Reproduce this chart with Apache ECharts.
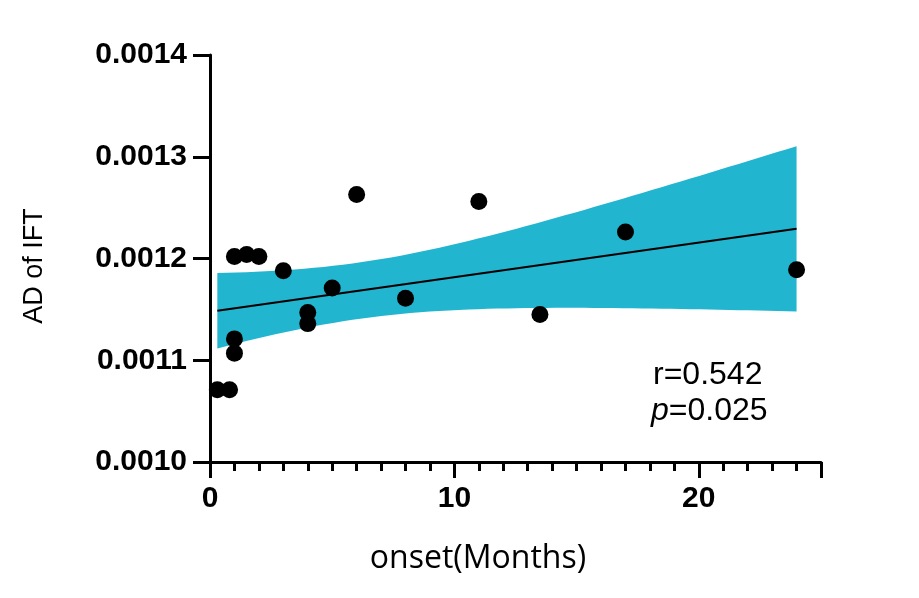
<!DOCTYPE html>
<html>
<head>
<meta charset="utf-8">
<script src="https://cdn.jsdelivr.net/npm/echarts@6/dist/echarts.min.js"></script>
<style>html,body{margin:0;padding:0;background:#fff}#c{width:919px;height:598px}</style>
</head>
<body>
<div id="c"></div>
<script>
// Data
const onsetMonths = [0.3, 0.8, 1, 1.5, 2, 3, 1, 1, 4, 4, 5, 6, 8, 11, 13.5, 17, 24];
const adIFT = [0.001071, 0.001071, 0.001202, 0.001204, 0.001202, 0.001188, 0.001121, 0.001107,
               0.001147, 0.001136, 0.001171, 0.001263, 0.001161, 0.001256, 0.001145, 0.001226, 0.001189];
const yTickValues = [0.0010, 0.0011, 0.0012, 0.0013, 0.0014];
const xTickValues = [0, 10, 20];
const statLines = ['r=0.542', 'p=0.025'];

// Linear regression with 95% confidence band, derived from the data
const n = onsetMonths.length;
const mx = onsetMonths.reduce((a, b) => a + b, 0) / n;
const my = adIFT.reduce((a, b) => a + b, 0) / n;
let sxx = 0, sxy = 0;
for (let i = 0; i < n; i++) { sxx += (onsetMonths[i] - mx) ** 2; sxy += (onsetMonths[i] - mx) * (adIFT[i] - my); }
const slope = sxy / sxx, icpt = my - slope * mx;
let sse = 0;
for (let i = 0; i < n; i++) { sse += (adIFT[i] - (icpt + slope * onsetMonths[i])) ** 2; }
const s = Math.sqrt(sse / (n - 2));
const tcrit = 2.131; // t(0.975, df=15)
const xMin = Math.min(...onsetMonths), xMax = Math.max(...onsetMonths);
const bandX = [], bandUp = [], bandLo = [];
for (let k = 0; k <= 60; k++) {
  const x = xMin + (xMax - xMin) * k / 60;
  const yh = icpt + slope * x;
  const h = tcrit * s * Math.sqrt(1 / n + (x - mx) ** 2 / sxx);
  bandX.push(x); bandUp.push(yh + h); bandLo.push(yh - h);
}
const fitLine = [[xMin, icpt + slope * xMin], [xMax, icpt + slope * xMax]];

const chart = echarts.init(document.getElementById('c'), null, {renderer: 'canvas'});
const axisFont = 'Liberation Sans, Arial, sans-serif';
chart.setOption({
  animation: false,
  backgroundColor: '#fff',
  grid: {left: 210, right: 98, top: 55, bottom: 136, containLabel: false},
  xAxis: {
    type: 'value', min: 0, max: 25, interval: 10,
    axisLine: {show: true, onZero: false, lineStyle: {color: '#000', width: 3}},
    axisTick: {show: true, length: 16, lineStyle: {color: '#000', width: 3}},
    minorTick: {show: true, splitNumber: 10, length: 9, lineStyle: {color: '#000', width: 3}},
    splitLine: {show: false},
    axisLabel: {color: '#000', fontFamily: axisFont, fontWeight: 'bold', fontSize: 30, margin: 22,
      formatter: v => xTickValues.includes(v) ? String(v) : ''}
  },
  yAxis: {
    type: 'value', min: 0.0010, max: 0.0014, interval: 0.0001,
    axisLine: {show: true, onZero: false, lineStyle: {color: '#000', width: 3}},
    axisTick: {show: true, length: 17, lineStyle: {color: '#000', width: 3}},
    splitLine: {show: false},
    axisLabel: {color: '#000', fontFamily: axisFont, fontWeight: 'bold', fontSize: 30, margin: 23,
      formatter: v => { const t = yTickValues.find(q => Math.abs(q - v) < 1e-9); return t !== undefined ? t.toFixed(4) : ''; }}
  },
  graphic: [
    {type: 'text', position: [478, 559], silent: true,
      style: {text: 'onset(Months)', fill: '#000', font: '32px "Open Sans", "Noto Sans", sans-serif', textAlign: 'center', textVerticalAlign: 'middle'}},
    {type: 'text', position: [35, 266], rotation: Math.PI / 2, silent: true,
      style: {text: 'AD of IFT', fill: '#000', font: '27px "Liberation Sans", Arial, sans-serif', textAlign: 'center', textVerticalAlign: 'middle'}},
    {type: 'text', position: [653, 375], silent: true,
      style: {text: statLines[0], fill: '#000', font: '32px "Liberation Sans", Arial, sans-serif', textAlign: 'left', textVerticalAlign: 'middle'}},
    {type: 'text', position: [651, 411], silent: true,
      style: {text: '{i|p}' + statLines[1].slice(1), fill: '#000', font: '32px "Liberation Sans", Arial, sans-serif', textAlign: 'left', textVerticalAlign: 'middle',
        rich: {i: {fontStyle: 'italic', fontSize: 32, fontFamily: 'Liberation Sans, Arial, sans-serif'}}}}
  ],
  series: [
    {
      type: 'custom', z: 1, silent: true, clip: true,
      data: [[bandX[0], bandUp[0]]],
      renderItem: function (params, api) {
        const pts = [];
        for (let k = 0; k < bandX.length; k++) pts.push(api.coord([bandX[k], bandUp[k]]));
        for (let k = bandX.length - 1; k >= 0; k--) pts.push(api.coord([bandX[k], bandLo[k]]));
        return {type: 'polygon', shape: {points: pts}, style: {fill: '#21b5cf'}};
      }
    },
    {
      type: 'line', z: 2, silent: true, symbol: 'none', data: fitLine,
      lineStyle: {color: '#000', width: 2}
    },
    {
      type: 'scatter', z: 3, symbol: 'circle', symbolSize: 17,
      itemStyle: {color: '#000', opacity: 1},
      data: onsetMonths.map((x, i) => [x, adIFT[i]])
    }
  ]
});
</script>
</body>
</html>
